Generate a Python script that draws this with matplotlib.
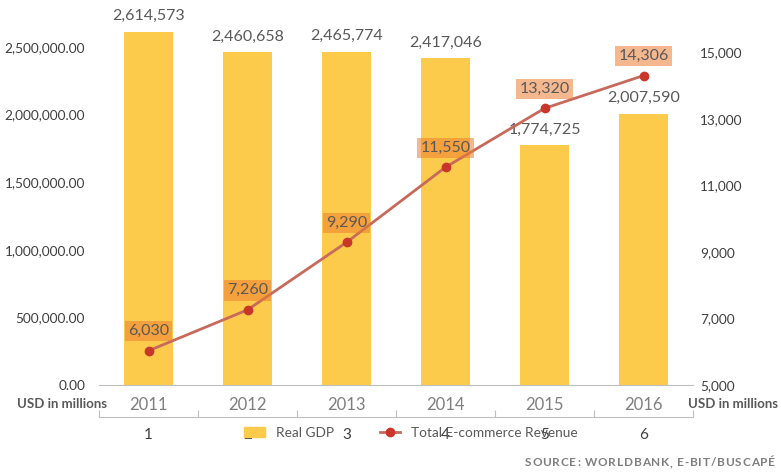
import matplotlib.pyplot as plt
from matplotlib.patches import Patch
from matplotlib.lines import Line2D

years = ['2011', '2012', '2013', '2014', '2015', '2016']
gdp = [2614573, 2460658, 2465774, 2417046, 1774725, 2007590]
ecommerce = [6030, 7260, 9290, 11550, 13320, 14306]
left_ticks = [0, 500000, 1000000, 1500000, 2000000, 2500000]
right_ticks = [5000, 7000, 9000, 11000, 13000, 15000]
bottom_labels = ['1', '2', '3', '4', '5', '6']
source = 'SOURCE: WORLDBANK, E-BIT/BUSCAPÉ'

plt.rcParams['font.family'] = ['Lato', 'DejaVu Sans']

BAR = '#fdcb4b'
LINE = '#c76a5c'
DOT = '#c9362a'
GREY = '#595959'

W, H = 781, 472
fig = plt.figure(figsize=(W / 100, H / 100), dpi=100)
ax_pos = [99 / W, 1 - 385 / H, 594 / W, 355 / H]
ax = fig.add_axes(ax_pos)
x = range(len(years))

ax.bar(x, gdp, width=0.5, color=BAR, zorder=2)
ax.set_xlim(-0.5, 5.5)
ax.set_ylim(0, 2500000 * 355 / 338)
ax.set_yticks(left_ticks)
ax.set_yticklabels([f'{v:,.2f}' for v in left_ticks], fontsize=9.8, color='#404040')
ax.set_xticks(list(x))
ax.set_xticklabels(years, fontsize=12, color='#7f7f7f')
ax.tick_params(axis='x', length=0, pad=9)
ax.tick_params(axis='y', length=0, pad=10)
for s in ['top', 'right', 'left']:
    ax.spines[s].set_visible(False)
ax.spines['bottom'].set_color('#bfbfbf')
for xi, v in zip(x, gdp):
    ax.annotate(f'{v:,}', (xi, v), xytext=(0, 6), textcoords='offset points',
                ha='center', va='bottom', fontsize=11.5, color=GREY)

ax2 = ax.twinx()
ax2.plot(list(x), ecommerce, color=LINE, lw=2, marker='o', ms=6,
         mfc=DOT, mec=DOT, zorder=3)
ax2.set_ylim(5000, 5000 + 2000 * 355 / 66.5)
ax2.set_yticks(right_ticks)
ax2.set_yticklabels([f'{v:,}' for v in right_ticks], fontsize=9.8, color='#404040')
ax2.tick_params(axis='y', length=0, pad=5)
for s in ['top', 'right', 'left', 'bottom']:
    ax2.spines[s].set_visible(False)
for xi, v in zip(x, ecommerce):
    ax2.annotate(f'{v:,}', (xi, v), xytext=(0, 9), textcoords='offset points',
                 ha='center', va='bottom', fontsize=11.5, color=GREY,
                 bbox=dict(boxstyle='square,pad=0.2', fc='#ed7d31', alpha=0.55,
                           ec='none'))

# second category axis below the years
ax3 = fig.add_axes([ax_pos[0], 1 - 417 / H, ax_pos[2], 0.001])
ax3.set_xlim(-0.5, 5.5)
ax3.set_yticks([])
for s in ['top', 'right', 'left']:
    ax3.spines[s].set_visible(False)
ax3.spines['bottom'].set_color('#bfbfbf')
ax3.set_xticks([i - 0.5 for i in range(7)])
ax3.set_xticklabels([])
ax3.tick_params(axis='x', which='major', direction='in', length=5, color='#bfbfbf')
ax3.set_xticks(list(x), minor=True)
ax3.set_xticklabels(bottom_labels, minor=True, fontsize=11, color='#404040')
ax3.tick_params(axis='x', which='minor', length=0, pad=8)

fig.text(17 / W, 1 - 404 / H, 'USD in millions', fontsize=9.5,
         fontweight='bold', color=GREY, va='center', ha='left')
fig.text(778 / W, 1 - 404 / H, 'USD in millions', fontsize=9.5,
         fontweight='bold', color=GREY, va='center', ha='right')

handles = [Patch(color=BAR, label='Real GDP'),
           Line2D([], [], color=LINE, lw=2, marker='o', ms=6, mfc=DOT, mec=DOT,
                  label='Total E-commerce Revenue')]
fig.legend(handles=handles, loc='center', bbox_to_anchor=(411 / W, 1 - 433 / H),
           ncol=2, frameon=False, fontsize=9.8, handlelength=1.5,
           handletextpad=0.8, columnspacing=3.4, labelcolor=GREY)

# letter-spaced source line, laid out one character at a time
r = fig.canvas.get_renderer()
kw = dict(fontsize=8.5, fontweight='bold', color='#7f7f7f', va='center')
chars = [fig.text(0, 1 - 463 / H, c, **kw) for c in source]
widths = [t.get_window_extent(r).width if c != ' ' else 3.0
          for t, c in zip(chars, source)]
track = (250 - sum(widths)) / (len(source) - 1)
pos = 525
for t, w in zip(chars, widths):
    t.set_x(pos / W)
    pos += w + track

fig.savefig('out.png', dpi=100)
